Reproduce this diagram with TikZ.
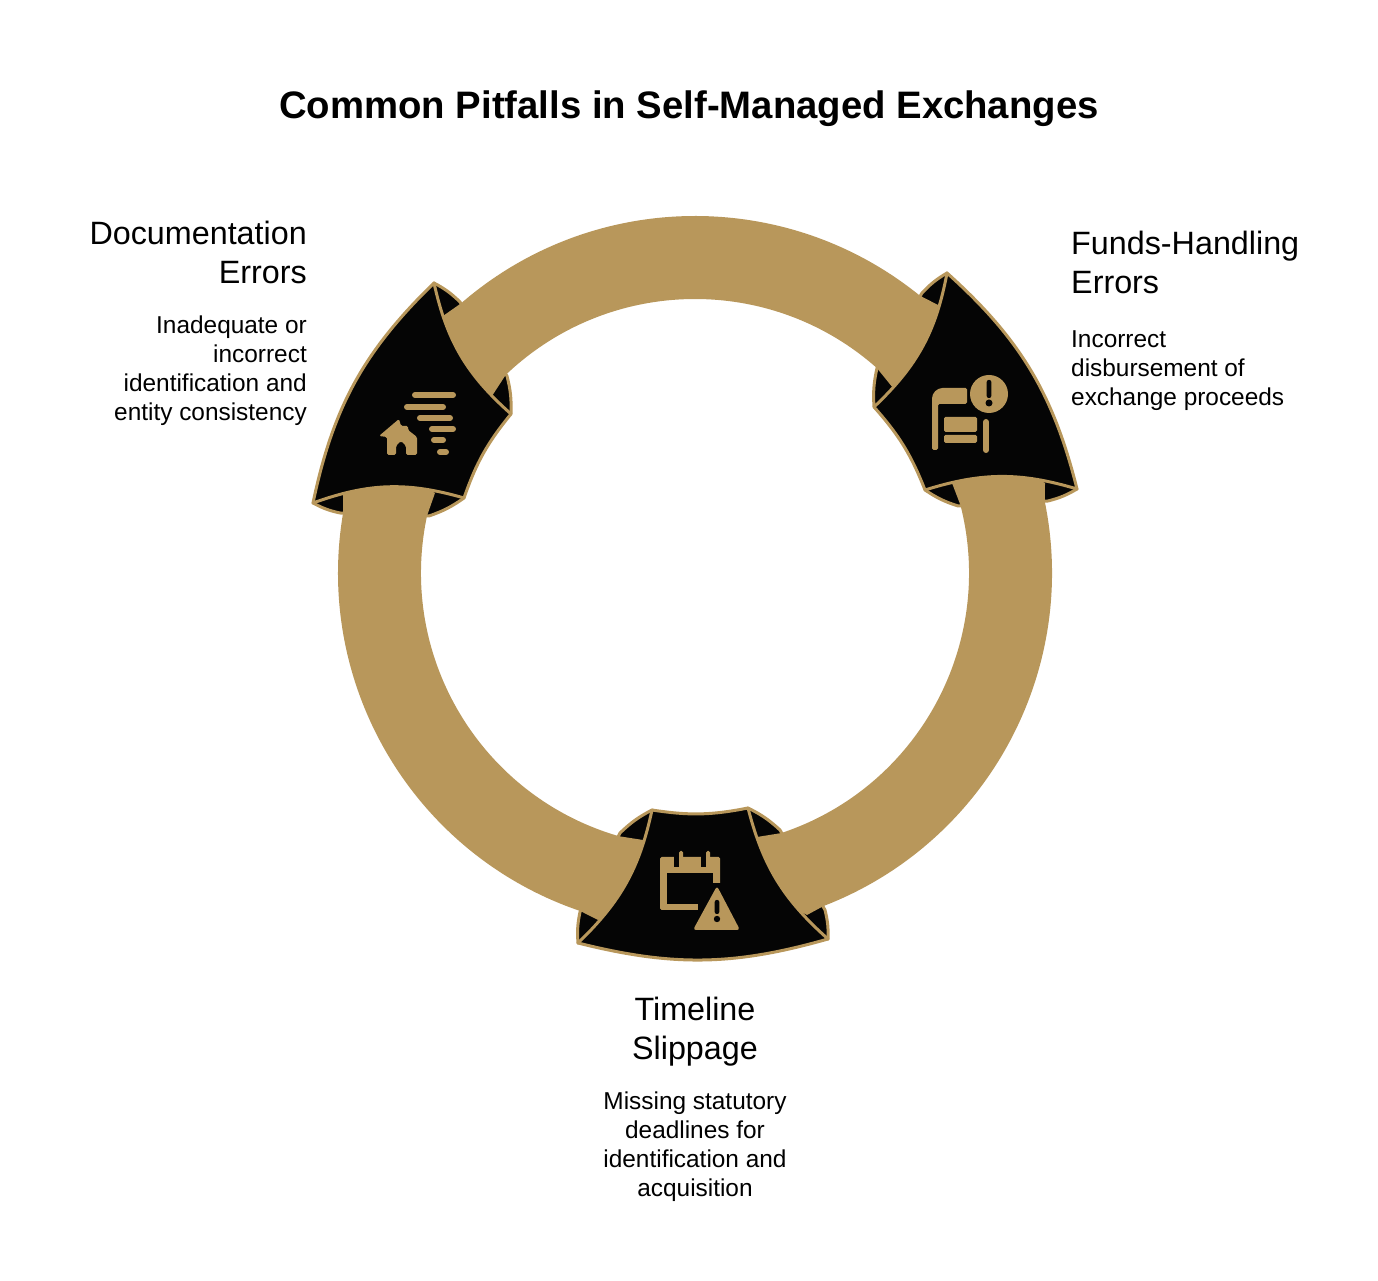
\documentclass[tikz,border=0pt]{standalone}
\usepackage{fontspec}
\setmainfont{Liberation Sans}
\definecolor{mygold}{rgb}{0.722,0.592,0.357}
\definecolor{myblack}{rgb}{0.02,0.02,0.02}
\begin{document}
\begin{tikzpicture}[x=1pt, y=1pt]
    % Define styles for ring, heads and texts
    \tikzstyle{ring}=[fill=mygold]
    \tikzstyle{head}=[fill=myblack, draw=mygold, line width=3pt, line join=round]
    \tikzstyle{icon}=[fill=mygold, rounded corners=1.5pt]
    \tikzstyle{bar}=[draw=mygold, line width=6pt, line cap=round]
    \tikzstyle{heading}=[inner sep=0pt, font=\fontsize{32.3}{39}\selectfont]
    \tikzstyle{body}=[inner sep=0pt, font=\fontsize{24.4}{29}\selectfont]
    \useasboundingbox (0,0) rectangle (1378,1281);

    % Title
    \node[inner sep=0pt, font=\fontsize{38.3}{44}\selectfont\bfseries] (title) at (689,1172) {Common Pitfalls in Self-Managed Exchanges};

    % Corners of the heads
    \coordinate (LA) at (434,998);
    \coordinate (LR) at (511,867);
    \coordinate (LBR) at (464,783);
    \coordinate (LBL) at (313,778);
    \coordinate (RA) at (947,1008);
    \coordinate (RBR) at (1077,792);
    \coordinate (RBL) at (925,791);
    \coordinate (RL) at (874,874);
    \coordinate (BTL) at (652,471);
    \coordinate (BTR) at (748,473);
    \coordinate (BBR) at (828,342);
    \coordinate (BBL) at (578,338);

    % Corners of the flaps
    \coordinate (fLa) at (460,979);
    \coordinate (fLb) at (507,905);
    \coordinate (fLc) at (429,765);
    \coordinate (fLd) at (340,768);
    \coordinate (fRa) at (877,913);
    \coordinate (fRb) at (922,988);
    \coordinate (fRc) at (1048,780);
    \coordinate (fRd) at (958,775);
    \coordinate (fBa) at (580,369);
    \coordinate (fBb) at (620,448);
    \coordinate (fBc) at (780,451);
    \coordinate (fBd) at (825,371);

    % Notches of the ring ends
    \coordinate (nLa) at (443,965);
    \coordinate (nLb) at (492,885);
    \coordinate (nLc) at (435,788);
    \coordinate (nLd) at (343,786);
    \coordinate (nRa) at (893,893);
    \coordinate (nRb) at (938,976);
    \coordinate (nRc) at (1045,798);
    \coordinate (nRd) at (952,798);
    \coordinate (nBa) at (598,361);
    \coordinate (nBb) at (643,441);
    \coordinate (nBc) at (757,444);
    \coordinate (nBd) at (807,366);

    % Flaps behind the ring ends
    \foreach \a/\p/\q/\b in {LA/fLa/fLb/LR, LBR/fLc/fLd/LBL, RL/fRa/fRb/RA,
                             RBR/fRc/fRd/RBL, BBL/fBa/fBb/BTL, BTR/fBc/fBd/BBR} {
        \draw[head] (\a) to[bend left=8] (\p) -- (\q) to[bend left=8] (\b) to[bend left=35] cycle;
    }

    % Ring segments
    \begin{scope}[shift={(695,708)}]
        \foreach \oa/\ob/\ia/\ib/\na/\nb/\nc/\nd in {130.9/51/133.7/48.4/nLa/nLb/nRa/nRb,
                                                      11.5/-68.9/14.3/-71.7/nRc/nRd/nBc/nBd,
                                                      251.3/170.4/253.9/167.9/nBa/nBb/nLc/nLd} {
            \fill[ring] (\oa:357) arc[start angle=\oa, end angle=\ob, radius=357]
                -- (\nd) to[bend left=30] (\nc) -- (\ib:274) arc[start angle=\ib, end angle=\ia, radius=274]
                -- (\nb) to[bend left=30] (\na) -- cycle;
        }
    \end{scope}

    % Heads
    \draw[head] (LA) to[bend right=18] (LR) to[bend right=10] (LBR) to[bend right=18] (LBL) to[bend left=17] cycle;
    \draw[head] (RA) to[bend left=17] (RBR) to[bend right=17] (RBL) to[bend right=10] (RL) to[bend right=18] cycle;
    \draw[head] (BTL) to[bend right=10] (BTR) to[bend right=17] (BBR) to[bend left=15] (BBL) to[bend right=17] cycle;

    % Documentation icon
    \foreach \a/\b/\y in {415/453/886, 407/443/874, 420/450/863, 432/453/852, 434/443/841, 440/446/829} {
        \draw[bar] (\a,\y) -- (\b,\y);
    }
    \fill[icon] (379,845) -- (399,862) -- (401,855) -- (408,855) -- (408,851) -- (417,844) -- (417,826)
        -- (406,826) -- (406,835) -- (401,840) -- (396,835) -- (396,826) -- (387,826) -- (387,844) -- cycle;

    % Funds icon
    \fill[mygold] (989,887) circle (19);
    \fill[myblack, rounded corners=2pt] (986.7,901) rectangle (991.3,883);
    \fill[myblack] (989,878) circle (3.5);
    \fill[icon] (932,834) -- (932,881) .. controls (932,888) and (937,893) .. (944,893) -- (967,893)
        -- (967,877) -- (938,877) -- (938,831) -- (932,831) -- cycle;
    \fill[icon] (944,849) rectangle (977,864);
    \fill[icon] (944,838) rectangle (977,846);
    \draw[draw=mygold, line width=6pt, line cap=round] (986,859) -- (986,831);

    % Timeline icon
    \fill[icon] (660,424) rectangle (720,371);
    \fill[myblack] (667,408) rectangle (713,377);
    \fill[myblack] (713,398) rectangle (722,366);
    \fill[myblack] (698,377) rectangle (722,366);
    \fill[myblack] (674,424.5) rectangle (679,414);
    \fill[myblack] (701,424.5) rectangle (706,414);
    \fill[icon] (679,430) rectangle (683,415);
    \fill[icon] (706,430) rectangle (710,415);
    \fill[mygold, rounded corners=3pt] (717,395) -- (740,351) -- (693,351) -- cycle;
    \fill[myblack, rounded corners=2pt] (714.7,381) rectangle (719.3,367);
    \fill[myblack] (717,362) circle (3.2);

    % Labels
    \node[heading, anchor=north east, align=right] (doc) at (307,1060) {Documentation\\Errors};
    \node[body, anchor=north east, align=right] (docbody) at (307,965) {Inadequate or\\incorrect\\identification and\\entity consistency};
    \node[heading, anchor=north west, align=left] (funds) at (1071,1050) {Funds-Handling\\Errors};
    \node[body, anchor=north west, align=left] (fundsbody) at (1071,950) {Incorrect\\disbursement of\\exchange proceeds};
    \node[heading, anchor=north, align=center] (time) at (695,284) {Timeline\\Slippage};
    \node[body, anchor=north, align=center] (timebody) at (695,189) {Missing statutory\\deadlines for\\identification and\\acquisition};
\end{tikzpicture}
\end{document}
